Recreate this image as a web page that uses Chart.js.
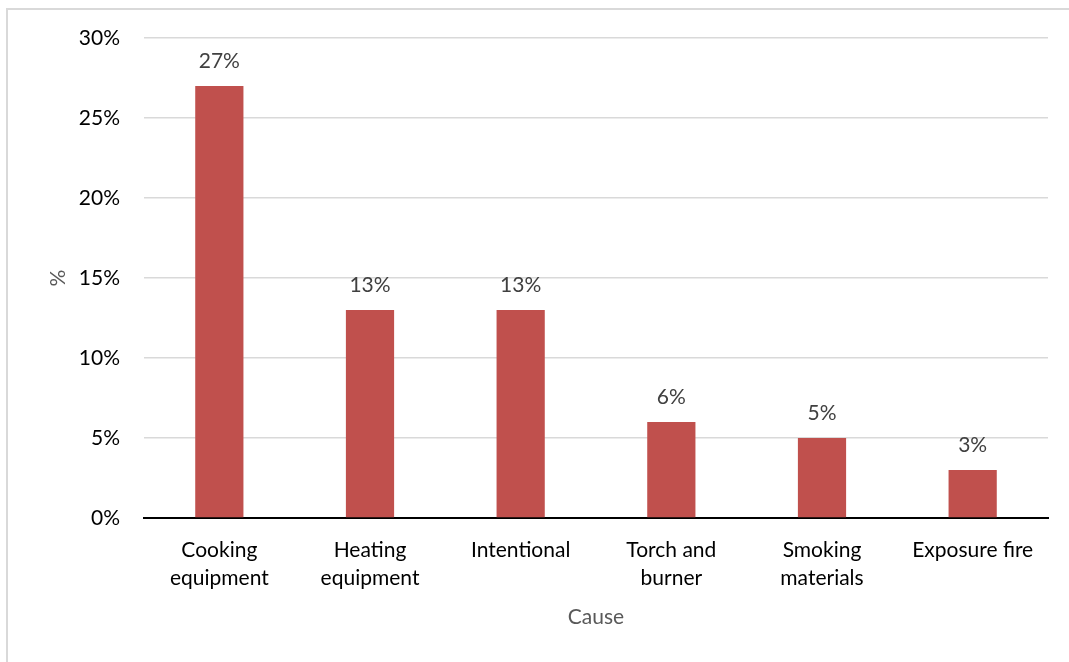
<!DOCTYPE html>
<html>
<head>
<meta charset="utf-8">
<script src="https://cdn.jsdelivr.net/npm/chart.js@4"></script>
<style>
html,body{margin:0;padding:0;background:#fff;}
#wrap{position:absolute;left:0;top:0;width:1069px;height:662px;}
</style>
</head>
<body>
<div id="wrap"><canvas id="c" width="1069" height="662"></canvas></div>
<script>
const categories = [["Cooking","equipment"],["Heating","equipment"],"Intentional",["Torch and","burner"],["Smoking","materials"],"Exposure fire"];
const values = [27, 13, 13, 6, 5, 3];
const yTicks = [0, 5, 10, 15, 20, 25, 30];
const xTitle = "Cause";
const yTitle = "%";

const FONT = "Lato, 'Open Sans', sans-serif";
const FS = 21;

const borderPlugin = {
  id: 'frame',
  beforeDraw(chart) {
    const ctx = chart.ctx;
    ctx.save();
    ctx.fillStyle = '#fff';
    ctx.fillRect(0, 0, chart.width, chart.height);
    ctx.strokeStyle = '#d9d9d9';
    ctx.lineWidth = 2;
    ctx.strokeRect(7, 9, chart.width + 10, chart.height + 10);
    ctx.restore();
  }
};

const labelPlugin = {
  id: 'valueLabels',
  afterDatasetsDraw(chart) {
    const ctx = chart.ctx;
    ctx.save();
    ctx.font = FS + "px " + FONT;
    ctx.fillStyle = '#404040';
    ctx.textAlign = 'center';
    ctx.textBaseline = 'middle';
    const meta = chart.getDatasetMeta(0);
    meta.data.forEach((bar, i) => {
      ctx.fillText(values[i] + '%', bar.x, bar.y - 25);
    });
    ctx.restore();
  }
};

new Chart(document.getElementById('c'), {
  type: 'bar',
  data: {
    labels: categories,
    datasets: [{
      data: values,
      backgroundColor: '#C0504D',
      borderWidth: 0,
      barPercentage: 0.32,
      categoryPercentage: 1.0
    }]
  },
  options: {
    responsive: false,
    animation: false,
    layout: { padding: { left: 46, right: 21, top: 38, bottom: 20 } },
    plugins: { legend: { display: false }, tooltip: { enabled: false } },
    scales: {
      x: {
        grid: { display: false, drawTicks: false },
        border: { display: true, color: '#000', width: 2 },
        ticks: { color: '#000', font: { family: FONT, size: FS, lineHeight: 28 / FS }, padding: 18, maxRotation: 0, autoSkip: false },
        title: { display: true, text: xTitle, color: '#595959', font: { family: FONT, size: FS }, padding: { top: 0, bottom: 12 } },
        afterFit(scale) { scale.height = 124; }
      },
      y: {
        min: 0, max: 30,
        afterBuildTicks(scale) { scale.ticks = yTicks.map(v => ({ value: v })); },
        grid: { color: '#d9d9d9', lineWidth: 1.5, drawTicks: false },
        border: { display: false },
        ticks: { color: '#000', font: { family: FONT, size: FS }, padding: 24, callback: v => v + '%' },
        title: { display: true, text: yTitle, color: '#595959', font: { family: FONT, size: FS }, padding: { top: 0, bottom: 0 } },
        afterFit(scale) { scale.width = 98; }
      }
    }
  },
  plugins: [borderPlugin, labelPlugin]
});
</script>
</body>
</html>
